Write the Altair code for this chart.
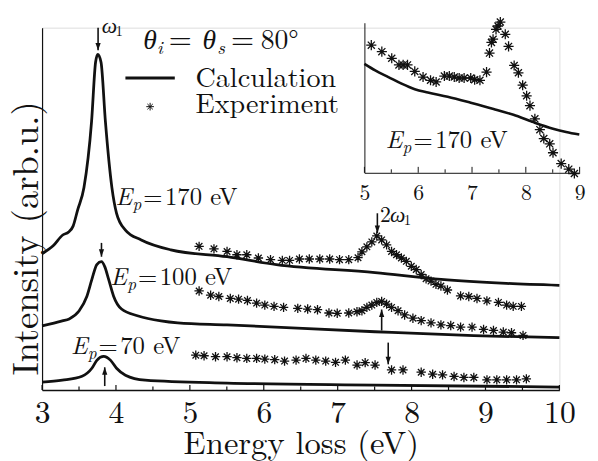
import altair as alt
import pandas as pd

FONT = "'Latin Modern Roman', 'Liberation Serif', serif"
GFONT = "'Liberation Serif', serif"
INK = "#111111"

# ---------------- data ----------------
# main panel: calculated spectra (energy loss eV, intensity arb.u., curves offset)
calc170_E = [3.00, 3.15, 3.28, 3.36, 3.42, 3.48, 3.567, 3.67, 3.724, 3.754, 3.798, 3.857, 3.945,
             4.008, 4.128, 4.342, 4.742, 5.503, 6.171, 7.506, 8.40, 9.28, 10.0]
calc170_I = [138, 146, 157, 160, 166, 182, 205, 272, 332, 340, 332, 272, 205,
             179, 162, 152, 142, 135, 127, 119, 112, 108, 106]
calc100_E = [3.0, 3.274, 3.367, 3.50, 3.607, 3.674, 3.741, 3.804, 3.848, 3.901, 3.968, 4.075,
             4.302, 4.609, 4.836, 5.503, 7.506, 8.841, 10.0]
calc100_I = [65, 70, 72, 80, 95, 112, 127, 130, 125, 112, 95, 82,
             75, 70, 68, 66, 59, 55, 53]
calc70_E = [3.0, 3.274, 3.541, 3.674, 3.741, 3.834, 3.928, 4.008, 4.128, 4.395, 5.503, 7.506, 10.0]
calc70_I = [8, 10, 14, 22, 30, 34, 30, 22, 15, 10, 7, 5, 3]

# main panel: experimental points
exp170_E = [5.125, 5.326, 5.503, 5.637, 5.770, 5.927, 6.091, 6.251, 6.349, 6.482, 6.616, 6.758,
            6.892, 7.025, 7.150, 7.275, 7.328, 7.395, 7.462, 7.529, 7.595, 7.662, 7.729, 7.796,
            7.862, 7.929, 7.996, 8.063, 8.130, 8.196, 8.263, 8.330, 8.397, 8.485, 8.663, 8.774,
            8.885, 9.019, 9.175, 9.286, 9.375, 9.486]
exp170_I = [145.5, 143, 140.3, 137, 137, 133.7, 132, 131.3, 131.3, 132.7, 132.7, 132.7,
            132.7, 132, 132, 134, 140, 145, 150, 156, 152, 147, 140.3, 137,
            133.7, 130.3, 125.3, 122, 117, 112.7, 110.3, 107, 105.3, 101.3, 95.3, 94.7,
            92.7, 90.3, 88.7, 86, 84.7, 84.7]
exp100_E = [5.125, 5.281, 5.392, 5.547, 5.659, 5.779, 5.903, 6.014, 6.139, 6.268, 6.460, 6.594,
            6.727, 6.882, 6.994, 7.150, 7.261, 7.328, 7.395, 7.462, 7.529, 7.595, 7.662, 7.729,
            7.817, 7.906, 8.018, 8.130, 8.263, 8.397, 8.530, 8.663, 8.818, 8.974, 9.108, 9.241,
            9.352, 9.508]
exp100_I = [100.3, 96, 94.7, 92.7, 92, 90.7, 88, 86, 84.7, 83.7, 82.7, 82,
            81.3, 78, 77.7, 78, 79.3, 80.3, 83.7, 86, 88.7, 89.7, 87, 83.7,
            80.3, 76, 72.7, 70.3, 68, 66, 65.3, 63.7, 63.7, 61.3, 60.3, 58.7,
            58, 55.3]
exp70_E = [5.08, 5.192, 5.347, 5.503, 5.637, 5.770, 5.903, 6.014, 6.148, 6.281, 6.437, 6.571,
           6.704, 6.838, 6.971, 7.104, 7.262, 7.372, 7.506, 7.729, 7.884, 8.130, 8.285, 8.419,
           8.575, 8.708, 8.842, 9.020, 9.153, 9.286, 9.420, 9.553]
exp70_I = [35.3, 34.7, 33.7, 33.7, 32.7, 32, 32, 31.3, 30.7, 29.3, 30.3, 32,
           30.3, 29.3, 28, 30.3, 25.3, 27.7, 25.3, 20.3, 20.3, 18, 16, 15.3,
           13.7, 12.7, 12.7, 10.3, 10.3, 10.3, 10.3, 11.3]

# inset (E_p = 170 eV, zoomed)
inset_calc_E = [5.0, 5.20, 5.446, 5.69, 5.936, 6.18, 6.547, 6.976, 7.40, 7.77, 8.138, 8.505, 8.749, 8.994]
inset_calc_I = [110.3, 103.7, 97, 90.3, 84.7, 81.3, 77, 71, 64.7, 58.7, 51.3, 44.7, 41.3, 38.7]
inset_exp_E = [5.128, 5.324, 5.508, 5.642, 5.72, 5.801, 5.936, 6.09, 6.229, 6.333, 6.486, 6.578,
               6.67, 6.761, 6.853, 6.976, 7.049, 7.147, 7.27, 7.325, 7.361, 7.391, 7.446, 7.483,
               7.526, 7.618, 7.679, 7.783, 7.862, 7.941, 8.015, 8.077, 8.168, 8.261, 8.334, 8.444,
               8.505, 8.657, 8.798, 8.902]
inset_exp_I = [129.3, 122.7, 116, 109.3, 109.3, 109.3, 102.7, 97, 93.7, 92, 98, 98,
               97, 96, 96, 96, 94.3, 93.7, 102, 121.3, 132, 135.3, 145.3, 148.7,
               152.7, 140.3, 128, 108.7, 101.3, 88.7, 78, 68, 54.7, 43.7, 34.7, 29.3,
               20.3, 9.3, 3.7, -0.7]

# axis ticks
main_ticks = [3, 3.5, 4, 4.5, 5, 5.5, 6, 6.5, 7, 7.5, 8, 8.5, 9, 9.5, 10]
main_labels = [3, 4, 5, 6, 7, 8, 9, 10]
inset_ticks = [5, 5.5, 6, 6.5, 7, 7.5, 8, 8.5, 9]
inset_labels = [5, 6, 7, 8, 9]

# arrows (x, from, to)
arrow_x = [3.758, 3.804, 3.848, 7.537, 7.595, 7.684]
arrow_from = [367, 149, 4, 179, 60.3, 48]
arrow_to = [344, 135, 23, 159, 81.5, 26]

# E_p labels: (value text, panel, x, y)
ep_labels = [("170 eV", "main", 3.995, 187), ("100 eV", "main", 3.924, 106),
             ("70 eV", "main", 3.39, 36), ("170 eV", "inset", 5.398, 24.7)]

# legend
legend_line_E = [4.128, 4.796]
legend_line_I = 316
legend_star = (4.462, 287)
legend_text = [("Calculation", 5.076, 307), ("Experiment", 5.076, 280.3)]
theta_anchor = (4.368, 345)
omega_anchor = (3.808, 362)
two_omega_anchor = (7.573, 170.3)

# ---------------- scales ----------------
MX = alt.Scale(domain=[3, 10], nice=False, zero=False)
MY = alt.Scale(domain=[0, 367], nice=False, zero=False)
IX = alt.Scale(domain=[5, 9], range=[326.5, 544.5], nice=False, zero=False)
IY = alt.Scale(domain=[0, 152], range=[147, -5], nice=False, zero=False)

STAR = "M-1,0L1,0M0,-1L0,1M-0.7,-0.7L0.7,0.7M-0.7,0.7L0.7,-0.7"
HEAD_DOWN = "M-0.35,-1L0,0L0.35,-1Z"
HEAD_UP = "M-0.35,1L0,0L0.35,1Z"

layers = []


def xy(xs, ys, xaxis=None, yaxis=None, xf="E", yf="I"):
    return dict(x=alt.X(f"{xf}:Q", scale=xs, axis=xaxis),
                y=alt.Y(f"{yf}:Q", scale=ys, axis=yaxis))


main_xaxis = alt.Axis(values=main_labels, format="d", ticks=False, tickSize=0, grid=False,
                      domain=True, domainColor=INK, domainWidth=1.5,
                      labelFont=FONT, labelFontSize=32, labelColor=INK, labelPadding=33,
                      labelBaseline="alphabetic", labelFlush=False, labelOverlap=False,
                      title="Energy loss (eV)", titleFont=FONT, titleFontSize=33,
                      titleFontWeight="normal", titleColor=INK, titleBaseline="alphabetic",
                      titleY=64)
main_yaxis = alt.Axis(ticks=False, labels=False, grid=False, domain=True, domainColor=INK,
                      domainWidth=1.2, title="Intensity (arb.u.)", titleFont=FONT,
                      titleFontSize=37, titleFontWeight="normal", titleColor=INK,
                      titleAngle=270, titleBaseline="alphabetic", titleAlign="center",
                      titleX=-4.5, titleY=213)
inset_xaxis = alt.Axis(orient="bottom", offset=-220, values=inset_labels, format="d",
                       ticks=False, tickSize=0, grid=False, domain=True, domainColor=INK,
                       domainWidth=1, labelFont=FONT, labelFontSize=22, labelColor=INK,
                       labelPadding=27, labelBaseline="alphabetic", labelFlush=False,
                       labelOverlap=False, title=None)
inset_yaxis = alt.Axis(orient="left", offset=-326.5, ticks=False, labels=False, grid=False,
                       domain=True, domainColor=INK, domainWidth=1, title=None)

# calculated curves
for i, (E, I) in enumerate([(calc170_E, calc170_I), (calc100_E, calc100_I), (calc70_E, calc70_I)]):
    df = pd.DataFrame({"E": E, "I": I})
    enc = xy(MX, MY, main_xaxis if i == 0 else None, main_yaxis if i == 0 else None)
    layers.append(alt.Chart(df).mark_line(color=INK, strokeWidth=2.8, interpolate="monotone",
                                          clip=False).encode(**enc))
layers.append(alt.Chart(pd.DataFrame({"E": inset_calc_E, "I": inset_calc_I}))
              .mark_line(color=INK, strokeWidth=2.6, interpolate="monotone", clip=False)
              .encode(**xy(IX, IY, inset_xaxis, inset_yaxis)))

# experimental points
for E, I in [(exp170_E, exp170_I), (exp100_E, exp100_I), (exp70_E, exp70_I)]:
    layers.append(alt.Chart(pd.DataFrame({"E": E, "I": I}))
                  .mark_point(shape=STAR, size=90, filled=False, color=INK, strokeWidth=1.3,
                              opacity=1, clip=False)
                  .encode(**xy(MX, MY)))
layers.append(alt.Chart(pd.DataFrame({"E": inset_exp_E, "I": inset_exp_I}))
              .mark_point(shape=STAR, size=105, filled=False, color=INK, strokeWidth=1.3,
                          opacity=1, clip=False)
              .encode(**xy(IX, IY)))

# inward ticks
mt = pd.DataFrame({"E": main_ticks, "y0": 0,
                   "y1": [5 if float(t).is_integer() else 3.5 for t in main_ticks]})
layers.append(alt.Chart(mt).mark_rule(color=INK, strokeWidth=1.2).encode(
    x=alt.X("E:Q", scale=MX, axis=None), y=alt.Y("y0:Q", scale=MY, axis=None), y2="y1:Q"))
it = pd.DataFrame({"E": inset_ticks, "y0": 0,
                   "y1": [6 if float(t).is_integer() else 3.5 for t in inset_ticks]})
layers.append(alt.Chart(it).mark_rule(color=INK, strokeWidth=1).encode(
    x=alt.X("E:Q", scale=IX, axis=None), y=alt.Y("y0:Q", scale=IY, axis=None), y2="y1:Q"))

# arrows
ad = pd.DataFrame({"E": arrow_x, "y0": arrow_from, "y1": arrow_to,
                   "dir": ["down" if t < f else "up" for f, t in zip(arrow_from, arrow_to)]})
layers.append(alt.Chart(ad).mark_rule(color=INK, strokeWidth=1.6).encode(
    x=alt.X("E:Q", scale=MX, axis=None), y=alt.Y("y0:Q", scale=MY, axis=None), y2="y1:Q"))
layers.append(alt.Chart(ad).mark_point(filled=True, size=230, color=INK, opacity=1,
                                       strokeWidth=0, clip=False).encode(
    x=alt.X("E:Q", scale=MX, axis=None), y=alt.Y("y1:Q", scale=MY, axis=None),
    shape=alt.Shape("dir:N", scale=alt.Scale(domain=["down", "up"], range=[HEAD_DOWN, HEAD_UP]),
                    legend=None)))


def text_parts(x, y, parts, xs=MX, ys=MY):
    d = pd.DataFrame({"x": [x], "y": [y]})
    out = []
    for txt, dx, dy, size, style, font in parts:
        out.append(alt.Chart(d).mark_text(text=txt, dx=dx, dy=dy, fontSize=size, font=font,
                                          fontStyle=style, align="left", baseline="alphabetic",
                                          color=INK, clip=False)
                   .encode(x=alt.X("x:Q", scale=xs, axis=None),
                           y=alt.Y("y:Q", scale=ys, axis=None)))
    return out


for val, panel, x, y in ep_labels:
    xs, ys = (MX, MY) if panel == "main" else (IX, IY)
    layers += text_parts(x, y, [("E", 0, 0, 25, "italic", FONT),
                                ("p", 17, 5, 17.5, "italic", FONT),
                                ("=", 28, 0, 25, "normal", FONT),
                                (val, 50, 0, 25, "normal", FONT)], xs, ys)

# legend
layers.append(alt.Chart(pd.DataFrame({"E": [legend_line_E[0]], "E2": [legend_line_E[1]],
                                      "I": [legend_line_I]}))
              .mark_rule(color=INK, strokeWidth=3).encode(
    x=alt.X("E:Q", scale=MX, axis=None), x2="E2:Q", y=alt.Y("I:Q", scale=MY, axis=None)))
layers.append(alt.Chart(pd.DataFrame({"E": [legend_star[0]], "I": [legend_star[1]]}))
              .mark_point(shape=STAR, size=60, filled=False, color=INK, strokeWidth=1, opacity=1)
              .encode(**xy(MX, MY)))
for txt, x, y in legend_text:
    layers += text_parts(x, y, [(txt, 0, 0, 28.5, "normal", FONT)])

layers += text_parts(theta_anchor[0], theta_anchor[1],
                     [("θ", 0, 0, 28, "italic", GFONT), ("i", 14, 5, 19, "italic", FONT),
                      ("=", 26, 0, 30, "normal", FONT), ("θ", 60, 0, 28, "italic", GFONT),
                      ("s", 75, 5, 19, "italic", FONT), ("=", 89, 0, 30, "normal", FONT),
                      ("80°", 119, 0, 28, "normal", FONT)])
layers += text_parts(omega_anchor[0], omega_anchor[1],
                     [("ω", 0, 0, 22, "italic", GFONT), ("1", 14, 3, 15, "normal", FONT)])
layers += text_parts(two_omega_anchor[0], two_omega_anchor[1],
                     [("2", 0, 0, 22, "normal", FONT), ("ω", 10, 0, 22, "italic", GFONT),
                      ("1", 24, 3, 15, "normal", FONT)])

chart = (alt.layer(*layers)
         .resolve_scale(x="independent", y="independent", shape="independent")
         .properties(width=524, height=367,
                     padding={"left": 34.5, "top": 17, "right": 31, "bottom": 69},
                     autosize=alt.AutoSizeParams(type="none"))
         .configure_view(stroke=None)
         .configure(background="white"))

chart.save("out.html", embed_options={"renderer": "svg", "actions": False})
